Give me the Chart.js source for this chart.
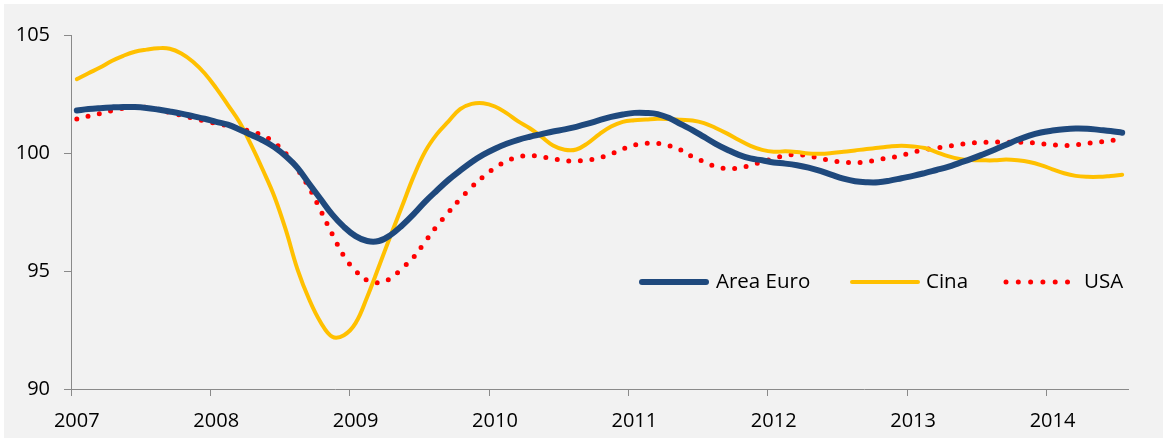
<!DOCTYPE html>
<html><head><meta charset="utf-8">
<script src="https://cdn.jsdelivr.net/npm/chart.js@4.4.1/dist/chart.umd.min.js"></script>
<style>
html,body{margin:0;padding:0;background:#fff;}
#wrap{position:absolute;left:4px;top:4px;width:1159px;height:434px;background:#f2f2f2;}
canvas{display:block;}
</style></head><body>
<div id="wrap"><canvas id="c" width="1159" height="434"></canvas></div>
<script>
// Tick labels (years) and monthly categories (Jan 2007 - Jul 2014)
const years = ['2007','2008','2009','2010','2011','2012','2013','2014'];
const monthCount = 91;
const categories = [];
for (let i = 0; i < monthCount; i++) {
  categories.push(years[Math.floor(i / 12)] + '-' + String(i % 12 + 1).padStart(2, '0'));
}
const seriesNames = ['Area Euro', 'Cina', 'USA'];

const areaEuro = [101.8,101.86,101.9,101.93,101.95,101.95,101.91,101.84,101.76,101.67,101.56,101.45,
  101.32,101.2,101.0,100.77,100.54,100.25,99.86,99.37,98.7,98.04,97.39,96.87,
  96.48,96.27,96.27,96.52,96.93,97.41,97.94,98.41,98.86,99.25,99.62,99.93,
  100.18,100.39,100.56,100.69,100.8,100.91,101.0,101.11,101.24,101.39,101.53,101.63,
  101.7,101.7,101.65,101.48,101.22,100.97,100.68,100.39,100.14,99.92,99.77,99.69,
  99.6,99.55,99.48,99.38,99.24,99.07,98.91,98.8,98.76,98.76,98.83,98.93,
  99.03,99.15,99.28,99.41,99.58,99.75,99.94,100.14,100.35,100.56,100.74,100.87,
  100.95,101.01,101.04,101.03,100.98,100.93,100.86];

const cina = [103.13,103.38,103.62,103.9,104.12,104.29,104.38,104.44,104.42,104.22,103.87,103.38,
  102.75,102.04,101.31,100.35,99.3,98.17,96.73,95.07,93.8,92.82,92.21,92.28,
  92.79,93.9,95.18,96.48,97.74,99.01,100.07,100.8,101.34,101.86,102.08,102.11,
  101.97,101.69,101.34,101.05,100.69,100.32,100.14,100.15,100.42,100.8,101.12,101.32,
  101.39,101.42,101.45,101.44,101.41,101.38,101.27,101.06,100.82,100.55,100.3,100.13,
  100.05,100.07,100.04,99.98,99.97,100.0,100.05,100.11,100.17,100.22,100.28,100.31,
  100.28,100.21,100.04,99.87,99.75,99.7,99.69,99.69,99.72,99.69,99.62,99.49,
  99.31,99.14,99.03,98.99,98.99,99.03,99.08];

const usa = [101.44,101.56,101.67,101.79,101.9,101.94,101.93,101.84,101.72,101.6,101.48,101.36,
  101.25,101.15,101.04,100.91,100.74,100.44,99.98,99.31,98.53,97.56,96.55,95.63,
  95.01,94.6,94.51,94.68,95.11,95.59,96.25,96.9,97.49,98.05,98.56,99.0,
  99.37,99.66,99.83,99.89,99.84,99.76,99.67,99.66,99.7,99.8,99.96,100.17,
  100.34,100.41,100.41,100.31,100.13,99.84,99.63,99.43,99.34,99.37,99.48,99.63,
  99.77,99.89,99.93,99.87,99.77,99.67,99.62,99.59,99.63,99.72,99.8,99.9,
  100.04,100.14,100.21,100.28,100.36,100.42,100.45,100.46,100.46,100.45,100.45,100.39,
  100.35,100.32,100.35,100.41,100.46,100.53,100.6];

const yTicks = [90, 95, 100, 105];

const FONT = "'Open Sans', sans-serif";
const AXIS_GRAY = '#8a8a8a';

// custom legend drawn inside the plot area, using the datasets' own styles
const insideLegend = {
  id: 'insideLegend',
  afterDatasetsDraw(chart) {
    const ctx = chart.ctx;
    const ds = chart.data.datasets;
    const y = 278;
    ctx.save();
    ctx.font = '20.5px ' + FONT;
    ctx.fillStyle = '#000';
    ctx.textBaseline = 'middle';
    // Area Euro
    ctx.lineCap = 'round';
    ctx.strokeStyle = ds[0].borderColor; ctx.lineWidth = ds[0].borderWidth;
    ctx.beginPath(); ctx.moveTo(638, y); ctx.lineTo(702, y); ctx.stroke();
    ctx.fillText(ds[0].label, 712, y);
    // Cina
    ctx.strokeStyle = ds[1].borderColor; ctx.lineWidth = ds[1].borderWidth;
    ctx.beginPath(); ctx.moveTo(848, y); ctx.lineTo(914, y); ctx.stroke();
    ctx.fillText(ds[1].label, 922, y);
    // USA (dots)
    ctx.fillStyle = ds[2].borderColor;
    for (let k = 0; k < 6; k++) {
      ctx.beginPath(); ctx.arc(1002 + k * 12.3, y, ds[2].borderWidth / 2, 0, Math.PI * 2); ctx.fill();
    }
    ctx.fillStyle = '#000';
    ctx.fillText(ds[2].label, 1080, y);
    ctx.restore();
  }
};

new Chart(document.getElementById('c'), {
  type: 'line',
  data: {
    labels: categories,
    datasets: [
      { label: seriesNames[0], data: areaEuro, borderColor: '#1F497D', borderWidth: 6,
        pointRadius: 0, tension: 0.4, borderCapStyle: 'round', borderJoinStyle: 'round', fill: false },
      { label: seriesNames[1], data: cina, borderColor: '#FFC000', borderWidth: 4,
        pointRadius: 0, tension: 0.4, borderCapStyle: 'round', borderJoinStyle: 'round', fill: false },
      { label: seriesNames[2], data: usa, borderColor: '#FF0000', borderWidth: 5,
        borderDash: [0, 11.6], borderCapStyle: 'round',
        pointRadius: 0, tension: 0.4, fill: false }
    ]
  },
  options: {
    responsive: false,
    animation: false,
    events: [],
    layout: { padding: { top: 31, right: 35, left: 0, bottom: 0 } },
    plugins: { legend: { display: false }, tooltip: { enabled: false } },
    scales: {
      x: {
        type: 'category',
        offset: true,
        afterFit: s => { s.height = 49; },
        grid: {
          offset: true, drawOnChartArea: false, drawTicks: true, tickLength: 7,
          tickColor: c => (c.index !== undefined && c.index % 12 === 0) ? AXIS_GRAY : 'rgba(0,0,0,0)',
          tickWidth: 1
        },
        border: { display: true, color: AXIS_GRAY, width: 1 },
        ticks: {
          autoSkip: false, maxRotation: 0, minRotation: 0, padding: 13,
          color: '#000', font: { family: FONT, size: 20 },
          callback: (v, i) => (i % 12 === 0 ? years[i / 12] : '')
        }
      },
      y: {
        min: 90, max: 105,
        afterFit: s => { s.width = 67; },
        afterBuildTicks: s => { s.ticks = yTicks.map(v => ({ value: v })); },
        grid: { drawOnChartArea: false, drawTicks: true, tickLength: 7, tickColor: AXIS_GRAY },
        border: { display: true, color: AXIS_GRAY, width: 1 },
        ticks: { padding: 14, color: '#000', font: { family: FONT, size: 20 } }
      }
    }
  },
  plugins: [insideLegend]
});
</script>
</body></html>
